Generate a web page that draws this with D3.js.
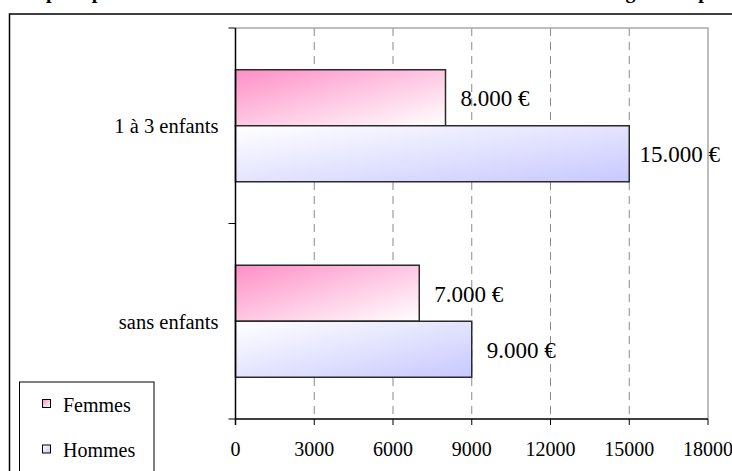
<!DOCTYPE html>
<html lang="fr">
<head>
<meta charset="utf-8">
<script src="https://cdn.jsdelivr.net/npm/d3@7"></script>
<style>
  html, body { margin: 0; padding: 0; background: #fff; }
  svg { display: block; font-family: "Liberation Serif", "Times New Roman", serif; }
</style>
</head>
<body>
<svg id="chart" width="732" height="471"></svg>
<script>
// Données
const categories = ["1 à 3 enfants", "sans enfants"];
const series = ["Femmes", "Hommes"];
const femmes = [8000, 7000];
const hommes = [15000, 9000];
const xTicks = [0, 3000, 6000, 9000, 12000, 15000, 18000];
const titre = "Écart de rémunération pour parents selon le nombre d'enfants et le sexe du salarié dans les grandes professions";

const W = 732, H = 471;
const svg = d3.select("#chart");

// Dégradés des barres
const defs = svg.append("defs");
function gradient(id, from, to) {
  const g = defs.append("linearGradient").attr("id", id)
    .attr("x1", 0).attr("y1", 0).attr("x2", 1).attr("y2", 1);
  g.append("stop").attr("offset", "0%").attr("stop-color", from);
  g.append("stop").attr("offset", "100%").attr("stop-color", to);
}
gradient("grad-Femmes", "#ff8fc6", "#ffffff");
gradient("grad-Hommes", "#ffffff", "#c8c8ff");

// Titre (dépasse le haut de la zone visible)
const title = svg.append("text")
  .attr("x", 0).attr("y", -2)
  .attr("font-weight", "bold").attr("font-size", 20)
  .text(titre);
const pIdx = titre.indexOf("pour");
const pPos = title.node().getStartPositionOfChar(pIdx).x;
title.attr("x", 46 - pPos);

// Cadre général
svg.append("rect")
  .attr("x", 9.5).attr("y", 14).attr("width", W).attr("height", H)
  .attr("fill", "none").attr("stroke", "#000").attr("stroke-width", 1.5);

// Échelles
const plot = { left: 235.5, right: 708, top: 28, bottom: 419 };
const x = d3.scaleLinear().domain([0, 18000]).range([plot.left, plot.right]);
const y0 = d3.scaleBand().domain(categories).range([plot.top, plot.bottom])
  .paddingInner(0.427).paddingOuter(0.2135);
const y1 = d3.scaleBand().domain(series).range([0, y0.bandwidth()]);

// Quadrillage vertical en pointillés
svg.append("g").selectAll("line")
  .data(xTicks.filter(t => t > 0 && t < 18000))
  .join("line")
  .attr("x1", d => x(d)).attr("x2", d => x(d))
  .attr("y1", plot.top).attr("y2", plot.bottom)
  .attr("stroke", "#8a8a8a").attr("stroke-width", 1)
  .attr("stroke-dasharray", "8,6");

// Bordure de la zone de tracé (haut et droite)
svg.append("path")
  .attr("d", `M${plot.left},${plot.top}H${plot.right}V${plot.bottom}`)
  .attr("fill", "none").attr("stroke", "#a8a8a8").attr("stroke-width", 1.5);

// Barres
const rows = categories.map((c, i) => ({ cat: c, values: [
  { s: "Femmes", v: femmes[i] }, { s: "Hommes", v: hommes[i] }] }));

const groups = svg.append("g").selectAll("g")
  .data(rows).join("g")
  .attr("transform", d => `translate(0,${y0(d.cat)})`);

groups.selectAll("rect")
  .data(d => d.values).join("rect")
  .attr("x", x(0))
  .attr("y", d => y1(d.s))
  .attr("width", d => x(d.v) - x(0))
  .attr("height", y1.bandwidth())
  .attr("fill", d => `url(#grad-${d.s})`)
  .attr("stroke", "#2a2a2a").attr("stroke-width", 1.5);

// Étiquettes de valeurs
const fr = d3.formatLocale({ decimal: ",", thousands: ".", grouping: [3], currency: ["", "\u00a0€"] });
const fmt = fr.format("$,.0f");
groups.selectAll("text.val")
  .data(d => d.values).join("text")
  .attr("class", "val")
  .attr("y", d => y1(d.s) + y1.bandwidth() / 2)
  .attr("dy", "0.37em")
  .attr("font-size", 23)
  .text(d => fmt(d.v))
  .attr("x", function (d) {
    const w = this.getComputedTextLength();
    return Math.min(x(d.v) + 15, W - 12 - w);
  });

// Axe horizontal
const xAxis = svg.append("g").attr("transform", `translate(0,${plot.bottom})`);
xAxis.append("line").attr("x1", plot.left).attr("x2", plot.right)
  .attr("stroke", "#000").attr("stroke-width", 1.5);
xAxis.selectAll("line.tick").data(xTicks).join("line")
  .attr("class", "tick")
  .attr("x1", d => x(d)).attr("x2", d => x(d))
  .attr("y1", 0).attr("y2", 6)
  .attr("stroke", "#000").attr("stroke-width", 1);
xAxis.selectAll("text").data(xTicks).join("text")
  .attr("x", d => x(d)).attr("y", 37)
  .attr("text-anchor", "middle").attr("font-size", 20)
  .text(d => d);

// Axe vertical
const yAxis = svg.append("g");
yAxis.append("line").attr("x1", plot.left).attr("x2", plot.left)
  .attr("y1", plot.top).attr("y2", plot.bottom + 6)
  .attr("stroke", "#000").attr("stroke-width", 1.5);
const bounds = [plot.top, plot.top + y0.step(), plot.top + 2 * y0.step()];
yAxis.selectAll("line.tick").data(bounds).join("line")
  .attr("class", "tick")
  .attr("x1", plot.left - 7).attr("x2", plot.left)
  .attr("y1", d => d).attr("y2", d => d)
  .attr("stroke", "#000").attr("stroke-width", 1);
yAxis.selectAll("text").data(categories).join("text")
  .attr("x", plot.left - 17)
  .attr("y", d => y0(d) + y0.bandwidth() / 2)
  .attr("dy", "0.36em")
  .attr("text-anchor", "end").attr("font-size", 20.5)
  .text(d => d);

// Légende
const legend = svg.append("g");
legend.append("rect")
  .attr("x", 19.5).attr("y", 382).attr("width", 134.5).attr("height", 120)
  .attr("fill", "#fff").attr("stroke", "#000").attr("stroke-width", 1);
const items = legend.selectAll("g").data(series).join("g")
  .attr("transform", (d, i) => `translate(0,${i * 45.5})`);
items.append("rect")
  .attr("x", 42.5).attr("y", 399.5).attr("width", 8).attr("height", 8)
  .attr("fill", d => `url(#grad-${d})`)
  .attr("stroke", "#000").attr("stroke-width", 1);
items.append("text")
  .attr("x", 63).attr("y", 411.5)
  .attr("font-size", 20)
  .text(d => d);
</script>
</body>
</html>
